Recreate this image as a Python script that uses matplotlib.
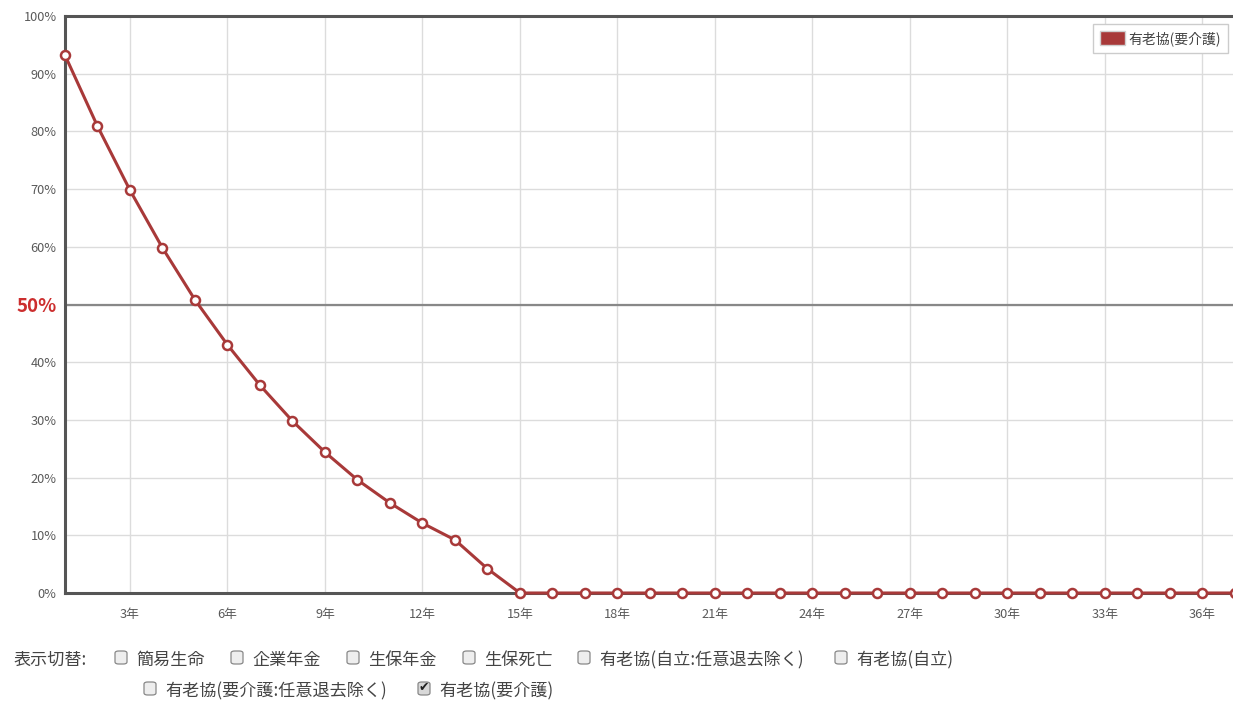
import matplotlib
matplotlib.use('Agg')
import matplotlib.pyplot as plt
from matplotlib.patches import Patch, FancyBboxPatch

plt.rcParams['font.family'] = ['Noto Sans CJK JP', 'DejaVu Sans']

years = list(range(1, 38))
rate = [93.2, 80.9, 69.8, 59.8, 50.8, 43.0, 36.0, 29.8, 24.4, 19.6,
        15.6, 12.1, 9.2, 4.2] + [0.0] * 23
series_name = '有老協(要介護)'
tick_years = list(range(3, 37, 3))
tick_pcts = list(range(0, 101, 10))

row1 = ['簡易生命', '企業年金', '生保年金', '生保死亡',
        '有老協(自立:任意退去除く)', '有老協(自立)']
row2 = ['有老協(要介護:任意退去除く)', '有老協(要介護)']
row2_checked = [False, True]

RED = '#a83939'
W, H = 1233, 702
fig = plt.figure(figsize=(W / 100, H / 100), dpi=100)
ax = fig.add_axes([65 / W, 1 - 593 / H, 1 - 65 / W, (593 - 16) / H])

ax.plot(years, rate, color=RED, lw=2.2, marker='o', ms=6.5,
        mfc='white', mec=RED, mew=1.8, zorder=5, clip_on=False)

ax.set_xlim(1, 36.94)
ax.set_ylim(0, 100)
ax.set_xticks(tick_years)
ax.set_xticklabels([f'{y}年' for y in tick_years])
ax.set_yticks(tick_pcts)
ax.set_yticklabels([f'{p}%' for p in tick_pcts])
ax.tick_params(length=0, labelsize=9.2, colors='#5a5a5a', pad=6)
ax.tick_params(axis='x', pad=11)
for lab in ax.get_yticklabels():
    if lab.get_text() == '50%':
        lab.set_color('#cc2e2e')
        lab.set_fontsize(13.5)
        lab.set_fontweight('bold')
ax.grid(color='#dcdcdc', lw=1)
ax.set_axisbelow(True)
ax.axhline(50, color='#888888', lw=1.6, zorder=2)
for side in ['top', 'left', 'bottom']:
    ax.spines[side].set_color('#555555')
    ax.spines[side].set_linewidth(2.2)
ax.spines['right'].set_visible(False)

leg = ax.legend(handles=[Patch(facecolor=RED, edgecolor='#d0d0d0',
                               label=series_name)],
                loc='upper right', bbox_to_anchor=(0.996, 0.986),
                fontsize=10, fancybox=False, framealpha=1,
                handlelength=1.8, handleheight=1.15, handletextpad=0.3,
                borderpad=0.5, borderaxespad=0)
leg.get_frame().set_edgecolor('#cccccc')
for t in leg.get_texts():
    t.set_color('#444444')


def checkbox(x, y, checked=False):
    box = FancyBboxPatch((x / W, 1 - (y + 7) / H), 12 / W, 13 / H,
                         boxstyle='round,pad=0,rounding_size=0.003',
                         transform=fig.transFigure,
                         facecolor='#d8d8d8' if checked else '#eeeeee',
                         edgecolor='#888888', lw=0.9)
    fig.patches.append(box)
    if checked:
        fig.text((x + 6) / W, 1 - y / H, '✔', ha='center', va='center',
                 fontsize=9, color='#222222', family='DejaVu Sans')


fs = 12.3
fig.text(14 / W, 1 - 660 / H, '表示切替:', fontsize=fs, color='#444444',
         va='center')
row1_x = [115, 231, 347, 463, 578, 835]
for x, lab in zip(row1_x, row1):
    checkbox(x, 657)
    fig.text((x + 21) / W, 1 - 660 / H, lab, fontsize=fs, color='#444444',
             va='center')
row2_x = [144, 418]
for x, lab, chk in zip(row2_x, row2, row2_checked):
    checkbox(x, 688, chk)
    fig.text((x + 21) / W, 1 - 691 / H, lab, fontsize=fs, color='#444444',
             va='center')

fig.savefig('out.png', dpi=100)
